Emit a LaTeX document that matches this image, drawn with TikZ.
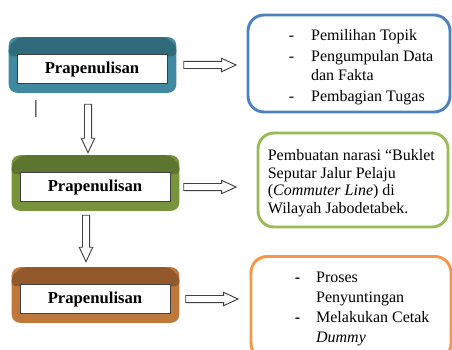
\documentclass[tikz,border=0pt]{standalone}
\usepackage{fontspec}
\setmainfont{Liberation Serif}
\usetikzlibrary{shapes.arrows, calc, positioning, backgrounds}
\definecolor{tealside}{HTML}{4089A0}
\definecolor{tealtop}{HTML}{2F6B7B}
\definecolor{olivside}{HTML}{77933C}
\definecolor{olivtop}{HTML}{5E7530}
\definecolor{brownside}{HTML}{BE783C}
\definecolor{browntop}{HTML}{93592A}
\definecolor{noteblue}{HTML}{4F81BD}
\definecolor{notegreen}{HTML}{9BBB59}
\definecolor{noteorange}{HTML}{F79646}
% bevelled frame behind a stage node: #1 node, #2 side colour, #3 top colour
\newcommand{\bevelframe}[3]{%
  \fill[#2, rounded corners=6] ($(#1.north west)+(-8,-17)$) rectangle ($(#1.south east)+(9,9)$);
  \fill[#3, rounded corners=3] ($(#1.north west)+(-8,2)$) -- ($(#1.north west)+(-8,-8)$)
    -- ($(#1.north west)+(2,-17)$) -- ($(#1.north east)+(-1,-17)$)
    -- ($(#1.north east)+(9,-8)$) -- ($(#1.north east)+(9,2)$) -- cycle;
}

\begin{document}
\begin{tikzpicture}[
    x=0.75pt, y=-0.75pt,
    stage/.style={rectangle, draw=black!75, fill=white, minimum width=112.5pt,
                  minimum height=21.75pt, inner sep=0pt,
                  font=\fontsize{12.5}{14}\selectfont\bfseries},
    note/.style={rectangle, rounded corners=12pt, line width=2.2pt},
    flow/.style={to path={
      let \p1=(\tikztostart), \p2=(\tikztotarget),
          \n1={veclen(\x2-\x1,\y2-\y1)}, \n2={atan2(\y2-\y1,\x2-\x1)}
      in node[single arrow, draw=black!75, fill=white, line width=0.7pt,
              inner xsep=0pt, inner ysep=2.3pt, text height=0pt, text depth=0pt,
              minimum width=0pt, single arrow head extend=2.4pt,
              single arrow tip angle=50, minimum height=\n1,
              anchor=tail, rotate=\n2] at (\p1) {}}}
  ]
    \useasboundingbox (0,0) rectangle (452,349);

    % stages
    \node[stage] (s1) at (92,69)  {Prapenulisan};
    \node[stage] (s2) at (95,187) {Prapenulisan};
    \node[stage] (s3) at (95,299) {Prapenulisan};
    \begin{scope}[on background layer]
      \bevelframe{s1}{tealside}{tealtop}
      \bevelframe{s2}{olivside}{olivtop}
      \bevelframe{s3}{brownside}{browntop}
    \end{scope}

    % notes
    \node[note, draw=noteblue, minimum width=151.5pt, minimum height=72.75pt] (r1) at (349,63.5) {};
    \node[note, draw=notegreen, minimum width=142.5pt, minimum height=70.5pt] (r2) at (353,180) {};
    \node[note, draw=noteorange, minimum width=150pt, minimum height=77.25pt] (r3) at (351,308) {};

    \node[anchor=west, inner sep=0pt, font=\fontsize{12}{14.2}\selectfont] (l1) at ($(r1.west)+(42,4)$)
      {\begin{tabular}{@{}l@{\hspace{12.75pt}}l@{}}
        - & Pemilihan Topik\\[1.6pt]
        - & Pengumpulan Data\\
          & dan Fakta\\[1.6pt]
        - & Pembagian Tugas
       \end{tabular}};
    \node[anchor=west, inner sep=0pt, align=left, font=\fontsize{12}{13.1}\selectfont] (l2) at ($(r2.west)+(11,3)$)
      {Pembuatan narasi “Buklet\\ Seputar Jalur Pelaju\\ (\textit{Commuter Line}) di\\ Wilayah Jabodetabek.};
    \node[anchor=west, inner sep=0pt, font=\fontsize{12}{15}\selectfont] (l3) at ($(r3.west)+(45,0)$)
      {\begin{tabular}{@{}l@{\hspace{12pt}}l@{}}
        \textbf{-} & Proses\\
                   & Penyuntingan\\
        \textbf{-} & Melakukan Cetak\\
                   & \textit{Dummy}
       \end{tabular}};

    \node[inner sep=0pt, font=\fontsize{14}{14}\selectfont] (caret) at (36,109) {|};

    % connectors
    \draw[flow] ($(s1.east)+(16,-4)$) to ($(r1.west |- s1.east)+(-11,-4)$);
    \draw[flow] ($(s2.east)+(13,0)$) to ($(r2.west |- s2.east)+(-21,0)$);
    \draw[flow] ($(s3.east)+(15,0)$) to ($(r3.west |- s3.east)+(-12,0)$);
    \draw[flow] ($(s1.south)+(-4,20)$) to ($(s2.north)+(-7,-20)$);
    \draw[flow] ($(s2.south)+(-9,13)$) to ($(s3.north)+(-9,-23)$);
\end{tikzpicture}
\end{document}
